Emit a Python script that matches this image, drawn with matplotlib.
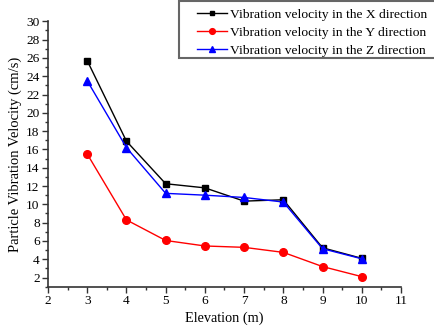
import matplotlib
matplotlib.use("Agg")
import matplotlib.pyplot as plt
from matplotlib.ticker import MultipleLocator
from matplotlib.patches import Rectangle

plt.rcParams['font.family'] = ['Liberation Serif', 'DejaVu Serif']

elevation = [3, 4, 5, 6, 7, 8, 9, 10]
vx = [25.7, 16.9, 12.25, 11.8, 10.35, 10.5, 5.25, 4.1]
vy = [15.5, 8.3, 6.05, 5.45, 5.3, 4.75, 3.2, 2.1]
vz = [23.5, 16.2, 11.2, 11.0, 10.75, 10.25, 5.15, 4.05]
labels = ["Vibration velocity in the X direction",
          "Vibration velocity in the Y direction",
          "Vibration velocity in the Z direction"]

W, H = 435, 331
fig = plt.figure(figsize=(W / 100, H / 100), dpi=100)
ax = fig.add_axes([48 / W, 1 - 286.7 / H, (401 - 48) / W, (286.7 - 21.3) / H])

ax.plot(elevation, vx, color='black', marker='s', markersize=4.8, linewidth=1, label=labels[0])
ax.plot(elevation, vy, color='red', marker='o', markersize=5.5, linewidth=1, label=labels[1])
ax.plot(elevation, vz, color='blue', marker='^', markersize=6, linewidth=1, label=labels[2])

ax.set_xlim(2, 11)
ax.set_ylim(1, 30)
ax.xaxis.set_major_locator(MultipleLocator(1))
ax.xaxis.set_minor_locator(MultipleLocator(0.5))
ax.set_yticks(range(2, 31, 2))
ax.yaxis.set_minor_locator(MultipleLocator(1))

for s in ['top', 'right']:
    ax.spines[s].set_visible(False)
for s in ['left', 'bottom']:
    ax.spines[s].set_linewidth(1.2)
    ax.spines[s].set_color('#333333')

ax.tick_params(which='major', direction='out', length=4, width=1, labelsize=9.6,
               color='#333333', pad=2)
ax.tick_params(which='minor', direction='out', length=2, width=1, color='#333333')

ax.set_xlabel("Elevation (m)", fontsize=10.3, labelpad=3)
ax.set_ylabel("Particle Vibration Velocity (cm/s)", fontsize=10.5, labelpad=3)

# legend frame
fig.patches.append(Rectangle((179 / W, 1 - 57.5 / H), (437 - 179) / W, 56.5 / H,
                             transform=fig.transFigure, facecolor='white',
                             edgecolor='#666666', linewidth=1.5, zorder=5))
leg = fig.legend(loc='upper left', bbox_to_anchor=(197 / W, 1 - 8.5 / H), fontsize=9.7,
                 frameon=False, handlelength=2.2, handletextpad=0.25,
                 borderpad=0, labelspacing=0.42, borderaxespad=0, markerscale=0.75)
leg.set_zorder(6)

fig.savefig("out.png", dpi=100)
